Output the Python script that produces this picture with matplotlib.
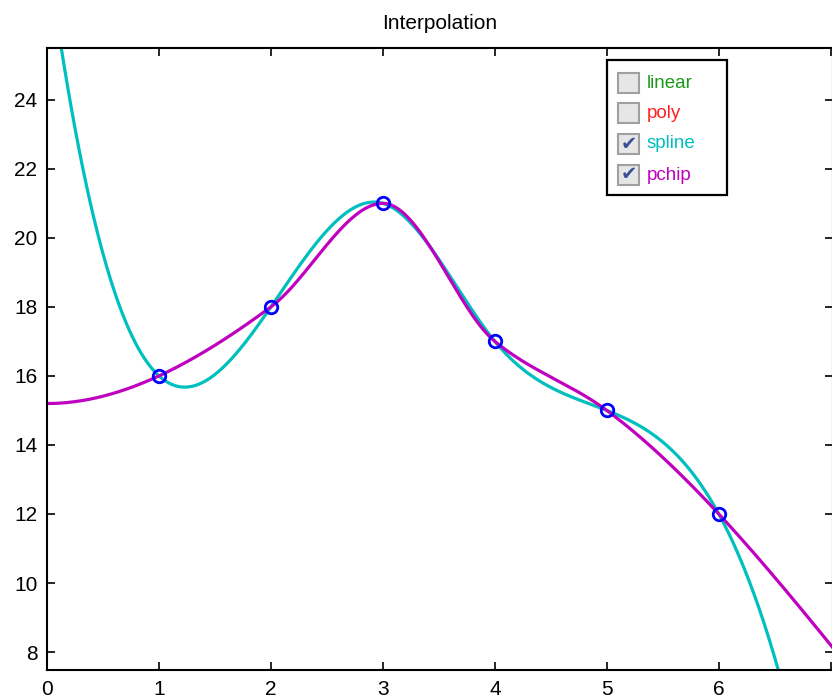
import numpy as np
import matplotlib
matplotlib.use("Agg")
import matplotlib.pyplot as plt
from matplotlib.patches import Rectangle

# data points
x_pts = [1, 2, 3, 4, 5, 6]
y_pts = [16, 18, 21, 17, 15, 12]
x_ticks = [0, 1, 2, 3, 4, 5, 6, 7]
x_ticklabels = ["0", "1", "2", "3", "4", "5", "6", ""]  # 7 falls off the edge
y_ticks = [8, 10, 12, 14, 16, 18, 20, 22, 24]
legend_names = ["linear", "poly", "spline", "pchip"]
legend_colors = ["#1a991a", "#ff2020", "#00bfbf", "#bf00bf"]
legend_checked = [False, False, True, True]


def spline_notaknot(x, y, xq):
    """cubic spline with not-a-knot ends (like matlab spline)"""
    x = np.asarray(x, float); y = np.asarray(y, float)
    n = len(x)
    h = np.diff(x)
    A = np.zeros((n, n)); b = np.zeros(n)
    A[0, 0], A[0, 1], A[0, 2] = h[1], -(h[0] + h[1]), h[0]
    A[-1, -3], A[-1, -2], A[-1, -1] = h[-1], -(h[-2] + h[-1]), h[-2]
    for i in range(1, n - 1):
        A[i, i - 1] = h[i - 1]
        A[i, i] = 2 * (h[i - 1] + h[i])
        A[i, i + 1] = h[i]
        b[i] = 6 * ((y[i + 1] - y[i]) / h[i] - (y[i] - y[i - 1]) / h[i - 1])
    M = np.linalg.solve(A, b)
    k = np.clip(np.searchsorted(x, xq) - 1, 0, n - 2)
    hk = h[k]
    a = x[k + 1] - xq
    c = xq - x[k]
    return (M[k] * a**3 / (6 * hk) + M[k + 1] * c**3 / (6 * hk)
            + (y[k] / hk - M[k] * hk / 6) * a
            + (y[k + 1] / hk - M[k + 1] * hk / 6) * c)


def pchip(x, y, xq):
    """shape preserving hermite (like matlab pchip)"""
    x = np.asarray(x, float); y = np.asarray(y, float)
    n = len(x)
    h = np.diff(x)
    dl = np.diff(y) / h
    d = np.zeros(n)
    for k in range(1, n - 1):
        if dl[k - 1] * dl[k] > 0:
            w1 = 2 * h[k] + h[k - 1]
            w2 = h[k] + 2 * h[k - 1]
            d[k] = (w1 + w2) / (w1 / dl[k - 1] + w2 / dl[k])

    def end_slope(h0, h1, d0, d1):
        s = ((2 * h0 + h1) * d0 - h0 * d1) / (h0 + h1)
        if np.sign(s) != np.sign(d0):
            s = 0
        elif np.sign(d0) != np.sign(d1) and abs(s) > abs(3 * d0):
            s = 3 * d0
        return s

    d[0] = end_slope(h[0], h[1], dl[0], dl[1])
    d[-1] = end_slope(h[-1], h[-2], dl[-1], dl[-2])
    k = np.clip(np.searchsorted(x, xq) - 1, 0, n - 2)
    hk = h[k]
    t = (xq - x[k]) / hk
    h00 = 2 * t**3 - 3 * t**2 + 1
    h10 = t**3 - 2 * t**2 + t
    h01 = -2 * t**3 + 3 * t**2
    h11 = t**3 - t**2
    return y[k] * h00 + hk * d[k] * h10 + y[k + 1] * h01 + hk * d[k + 1] * h11


plt.rcParams['font.family'] = ['Liberation Sans', 'DejaVu Sans']

fig = plt.figure(figsize=(8.32, 7.0), dpi=100)
W, H = 832.0, 700.0
ax = fig.add_axes([47 / W, 1 - 670 / H, (833 - 47) / W, (670 - 48) / H])

xx = np.linspace(0, 7.1, 800)
ax.plot(xx, spline_notaknot(x_pts, y_pts, xx), color="#00bfbf", lw=2.3)
ax.plot(xx, pchip(x_pts, y_pts, xx), color="#bf00bf", lw=2.3)
ax.plot(x_pts, y_pts, 'o', mfc='none', mec='#0000ff', ms=9, mew=2)

ax.set_xlim(0, 7.02)
ax.set_ylim(7.48, 25.5)
ax.set_xticks(x_ticks)
ax.set_xticklabels(x_ticklabels)
ax.set_yticks(y_ticks)
ax.tick_params(direction='in', top=True, right=True, length=6, width=1.2,
               labelsize=15, colors='black', pad=7)
for s in ax.spines.values():
    s.set_linewidth(1.5)
ax.set_title("Interpolation", fontsize=15, pad=14)

# checkbox style legend box
box = Rectangle((607, 700 - 195), 120, 135, transform=None, fill=True,
                fc='white', ec='black', lw=1.6, zorder=5)
fig.patches.append(box)
row_y = [83, 113, 144, 175]
for name, col, chk, ry in zip(legend_names, legend_colors, legend_checked, row_y):
    cb = Rectangle((618, 700 - ry - 10), 21, 20, transform=None,
                   fc='#e6e6e6', ec='#a0a0a0', lw=1.5, zorder=6)
    fig.patches.append(cb)
    if chk:
        fig.text(629 / W, 1 - ry / H, u"\u2714", color='#3a4f9a', fontsize=14,
                 ha='center', va='center', family='DejaVu Sans', zorder=7)
    fig.text(647 / W, 1 - ry / H, name, color=col, fontsize=13.5,
             ha='left', va='center', zorder=7)

fig.savefig("out.png", dpi=100)
